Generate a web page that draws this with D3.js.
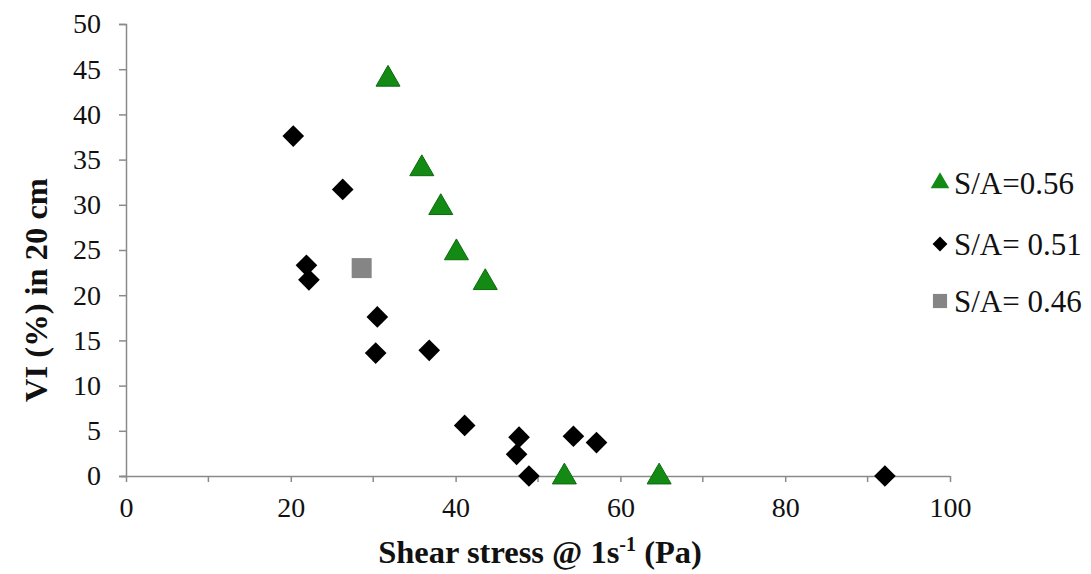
<!DOCTYPE html>
<html>
<head>
<meta charset="utf-8">
<script src="https://cdn.jsdelivr.net/npm/d3@7"></script>
<style>
  html, body { margin: 0; padding: 0; background: #fff; }
  svg { display: block; }
  text { font-family: "Liberation Serif", "Times New Roman", serif; fill: #111; }
</style>
</head>
<body>
<svg id="chart" width="1091" height="574"></svg>
<script>
// Shear stress (Pa) vs VI (%) for three S/A ratios
const sa056X = [31.8, 35.9, 38.2, 40.1, 43.6, 53.2, 64.7];
const sa056Y = [44.0, 34.1, 29.8, 24.8, 21.5, 0, 0];

const sa051X = [20.3, 26.3, 21.9, 22.2, 30.5, 30.3, 36.8, 41.1, 47.7, 47.4, 48.9, 54.3, 57.1, 92.1];
const sa051Y = [37.6, 31.7, 23.3, 21.7, 17.6, 13.6, 13.9, 5.6, 4.3, 2.4, 0, 4.4, 3.7, 0];

const sa046X = [28.6];
const sa046Y = [23.0];

const xTicks = [0, 20, 40, 60, 80, 100];
const xMinorTicks = [10, 30, 50, 70, 90];
const yTicks = [0, 5, 10, 15, 20, 25, 30, 35, 40, 45, 50];

const legendLabels = ["S/A=0.56", "S/A= 0.51", "S/A= 0.46"];

const svg = d3.select("#chart");
const plot = { left: 126, right: 950, top: 24, bottom: 476 };

const x = d3.scaleLinear().domain([0, 100]).range([plot.left, plot.right]);
const y = d3.scaleLinear().domain([0, 50]).range([plot.bottom, plot.top]);

const axisColor = "#8a8a8a";
const serif = "'Liberation Serif', 'Times New Roman', serif";

// y axis
const yAxis = svg.append("g")
  .attr("transform", `translate(${plot.left},0)`)
  .call(d3.axisLeft(y).tickValues(yTicks).tickSize(7).tickPadding(18));
yAxis.select(".domain").attr("stroke", axisColor).attr("stroke-width", 1.5);
yAxis.selectAll(".tick line").attr("stroke", axisColor).attr("stroke-width", 1.5);
yAxis.selectAll(".tick text")
  .style("font-family", serif)
  .style("font-size", "28px").attr("fill", "#111");

// x axis (labels every 20, extra tick marks at 10s)
const xAxis = svg.append("g")
  .attr("transform", `translate(0,${plot.bottom})`)
  .call(d3.axisBottom(x).tickValues(xTicks).tickSize(6).tickPadding(15));
xAxis.select(".domain").attr("stroke", axisColor).attr("stroke-width", 1.5)
  .attr("d", `M${plot.left - 5},0.5H${plot.right}`);
xAxis.selectAll(".tick line").attr("stroke", axisColor).attr("stroke-width", 1.5);
xAxis.selectAll(".tick text")
  .style("font-family", serif)
  .style("font-size", "28px").attr("fill", "#111");
xAxis.selectAll(".minor")
  .data(xMinorTicks)
  .enter().append("line")
  .attr("x1", d => x(d)).attr("x2", d => x(d))
  .attr("y1", 0).attr("y2", 6)
  .attr("stroke", axisColor).attr("stroke-width", 1.5);

// axis titles
const xTitle = svg.append("text")
  .attr("x", (plot.left + plot.right) / 2 + 2)
  .attr("y", 563)
  .attr("text-anchor", "middle")
  .style("font-size", "32.5px")
  .style("font-weight", "bold");
xTitle.append("tspan").text("Shear stress @ 1s");
xTitle.append("tspan").attr("dy", -12).style("font-size", "20px").text("-1");
xTitle.append("tspan").attr("dy", 12).text(" (Pa)");

svg.append("text")
  .attr("transform", `translate(47,${(plot.top + plot.bottom) / 2 + 40}) rotate(-90)`)
  .attr("text-anchor", "middle")
  .style("font-size", "32.5px")
  .style("font-weight", "bold")
  .text("VI (%) in 20 cm");

// markers
const triSym = d3.symbol().type(d3.symbolTriangle);
const diaSym = d3.symbol().type(d3.symbolSquare);
const sqSym = d3.symbol().type(d3.symbolSquare);

const green = "#138a13";
const greenEdge = "#0d6a0d";

svg.append("g").selectAll("path")
  .data(sa051X.map((v, i) => [v, sa051Y[i]]))
  .enter().append("path")
  .attr("d", diaSym.size(235)())
  .attr("transform", d => `translate(${x(d[0])},${y(d[1])}) rotate(45)`)
  .attr("fill", "#000");

svg.append("g").selectAll("path")
  .data(sa046X.map((v, i) => [v, sa046Y[i]]))
  .enter().append("path")
  .attr("d", sqSym.size(400)())
  .attr("transform", d => `translate(${x(d[0])},${y(d[1])})`)
  .attr("fill", "#858585");

svg.append("g").selectAll("path")
  .data(sa056X.map((v, i) => [v, sa056Y[i]]))
  .enter().append("path")
  .attr("d", triSym.size(250)())
  .attr("transform", d => `translate(${x(d[0])},${y(d[1]) + 1})`)
  .attr("fill", green)
  .attr("stroke", greenEdge)
  .attr("stroke-width", 1);

// legend
const legend = svg.append("g");
const legendY = [183, 244, 301];
const legendMarks = [
  { sym: triSym.size(150)(), fill: green, rot: 0 },
  { sym: diaSym.size(110)(), fill: "#000", rot: 45 },
  { sym: sqSym.size(200)(), fill: "#858585", rot: 0 }
];
legendLabels.forEach((lab, i) => {
  legend.append("path")
    .attr("d", legendMarks[i].sym)
    .attr("transform", `translate(940,${legendY[i]}) rotate(${legendMarks[i].rot})`)
    .attr("fill", legendMarks[i].fill);
  legend.append("text")
    .attr("x", 954)
    .attr("y", legendY[i] + 11)
    .style("font-size", "31px")
    .text(lab);
});
</script>
</body>
</html>
